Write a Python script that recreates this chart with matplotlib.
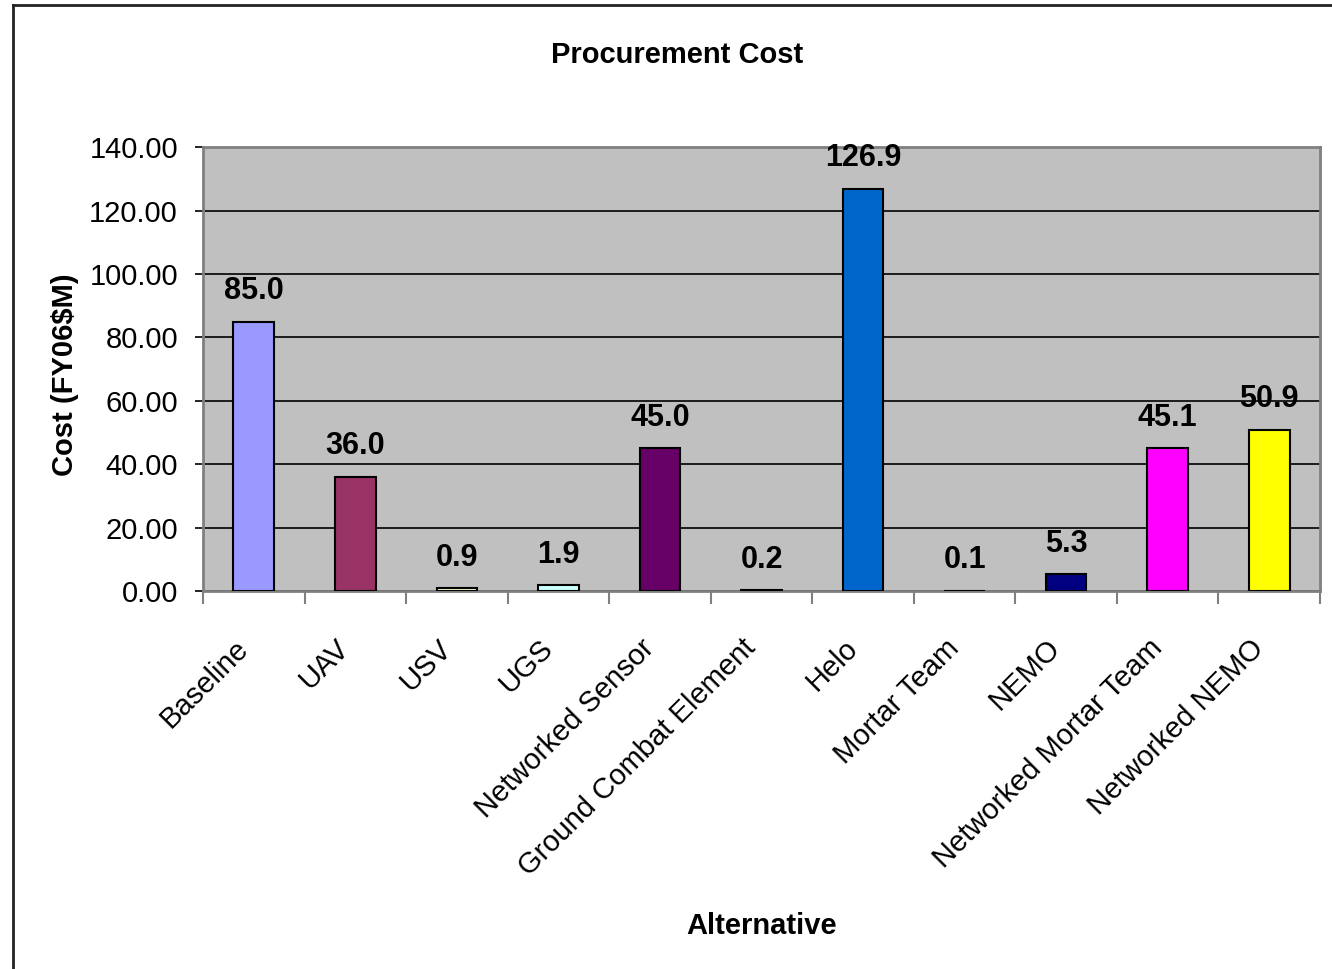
import matplotlib
matplotlib.use("Agg")
import matplotlib.pyplot as plt
from matplotlib.lines import Line2D
from matplotlib.transforms import ScaledTranslation

plt.rcParams['font.family'] = ['Liberation Sans', 'DejaVu Sans']

# procurement cost per alternative, FY06 $M
alternatives = ['Baseline', 'UAV', 'USV', 'UGS', 'Networked Sensor',
                'Ground Combat Element', 'Helo', 'Mortar Team', 'NEMO',
                'Networked Mortar Team', 'Networked NEMO']
costs = [85.0, 36.0, 0.9, 1.9, 45.0, 0.2, 126.9, 0.1, 5.3, 45.1, 50.9]
bar_colors = ['#9999FF', '#993366', '#FFFFCC', '#CCFFFF', '#660066', '#FF8080',
              '#0066CC', '#CCCCFF', '#000080', '#FF00FF', '#FFFF00']

fig = plt.figure(figsize=(13.32, 9.69), dpi=100)
ax = fig.add_axes([0.1524, 0.390, 0.8386, 0.458])
ax.set_facecolor('#C0C0C0')

x = list(range(len(alternatives)))
ax.bar(x, costs, width=0.4, color=bar_colors, edgecolor='black', linewidth=1.5, zorder=3)

for xi, v in zip(x, costs):
    ax.annotate('%.1f' % v, (xi, v), xytext=(0, 22), textcoords='offset points',
                ha='center', va='center', fontsize=22, fontweight='bold', zorder=4)

ax.set_xlim(-0.5, len(alternatives) - 0.5)
ax.set_ylim(0, 140)
ax.set_yticks(range(0, 141, 20))
ax.set_yticklabels(['%.2f' % t for t in range(0, 141, 20)], fontsize=21)
ax.yaxis.grid(True, color='black', linewidth=1.2, zorder=0)
ax.set_axisbelow(True)

ax.set_xticks(x)
ax.set_xticklabels(alternatives, rotation=45, ha='right', va='center',
                   rotation_mode='anchor', fontsize=21)
ax.set_xticks([i - 0.5 for i in range(len(alternatives) + 1)], minor=True)
ax.tick_params(axis='x', which='major', length=0, pad=38)
ax.tick_params(axis='x', which='minor', length=9, width=1.5, color='#808080')
ax.tick_params(axis='y', length=6, width=1.2, color='black', pad=12)
# nudge the slanted category names left of their slot centre
shift = ScaledTranslation(-10 / 100, 0, fig.dpi_scale_trans)
for lbl in ax.get_xticklabels():
    lbl.set_transform(lbl.get_transform() + shift)

for s in ax.spines.values():
    s.set_color('#808080')
    s.set_linewidth(2)

ax.set_xlabel('Alternative', fontsize=21, fontweight='bold')
ax.xaxis.set_label_coords(0.5, -0.722)
ax.set_ylabel('Cost (FY06$M)', fontsize=21, fontweight='bold')
ax.yaxis.set_label_coords(-0.111, 0.487)

fig.text(0.508, 0.943, 'Procurement Cost', ha='center', va='center',
         fontsize=21, fontweight='bold')

# chart area border (left and top edges)
fig.add_artist(Line2D([13 / 1332, 13 / 1332], [0, 1 - 5 / 969], color='#222222',
                      linewidth=2, transform=fig.transFigure))
fig.add_artist(Line2D([13 / 1332, 1], [1 - 5 / 969, 1 - 5 / 969], color='#222222',
                      linewidth=2, transform=fig.transFigure))

fig.savefig('out.png', dpi=100)
